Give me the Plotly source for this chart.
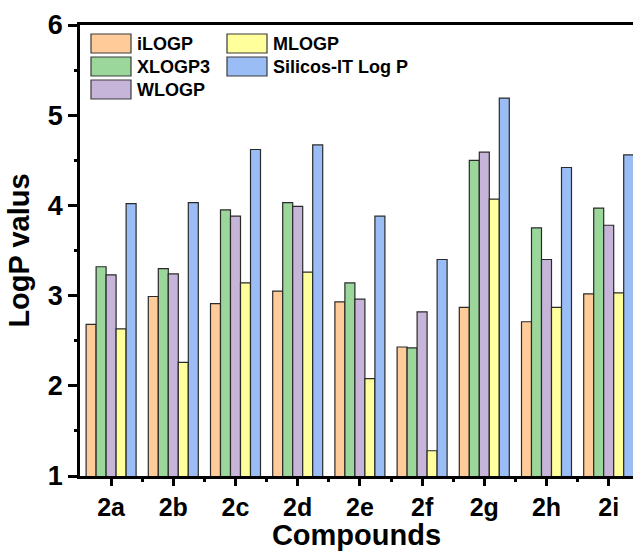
import plotly.graph_objects as go

compounds = ["2a", "2b", "2c", "2d", "2e", "2f", "2g", "2h", "2i"]
series_names = ["iLOGP", "XLOGP3", "WLOGP", "MLOGP", "Silicos-IT Log P"]

ilogp   = [2.68, 2.99, 2.91, 3.05, 2.93, 2.43, 2.87, 2.71, 3.02]
xlogp3  = [3.32, 3.30, 3.95, 4.03, 3.14, 2.42, 4.50, 3.75, 3.97]
wlogp   = [3.23, 3.24, 3.88, 3.99, 2.96, 2.82, 4.59, 3.40, 3.78]
mlogp   = [2.63, 2.26, 3.14, 3.26, 2.08, 1.28, 4.07, 2.87, 3.03]
silicos = [4.02, 4.03, 4.62, 4.67, 3.88, 3.40, 5.19, 4.42, 4.56]

y_ticks = [1, 2, 3, 4, 5, 6]

series_values = [ilogp, xlogp3, wlogp, mlogp, silicos]
colors = ["#FFCC99", "#9BD69B", "#C6B4D9", "#FFFF9C", "#9BBDF6"]

W, H = 633, 551
ML, MR, MT, MB = 80, 0, 25, 75
PW, PH = W - ML - MR, H - MT - MB

FONT = "Liberation Sans, Arial, sans-serif"

x_idx = list(range(len(compounds)))

fig = go.Figure()
for name, vals, col in zip(series_names, series_values, colors):
    fig.add_trace(go.Bar(
        x=x_idx, y=vals, name=name,
        marker=dict(color=col, line=dict(color="#2a2a2a", width=1.2)),
        showlegend=False,
    ))

# custom legend (two columns, large swatches)
def px_x(p):
    return (p - ML) / PW

def px_y(p):
    return (H - MB - p) / PH

legend_pos = [(0, 0), (0, 1), (0, 2), (1, 0), (1, 1)]  # (col, row) per series
col_x = [91, 227]
row_y = [34, 57, 80]
sw_w, sw_h = 40, 19
shapes = []
annotations = []
for (c, r), name, col in zip(legend_pos, series_names, colors):
    x0 = col_x[c]
    y0 = row_y[r]
    shapes.append(dict(type="rect", xref="paper", yref="paper",
                       x0=px_x(x0), x1=px_x(x0 + sw_w),
                       y0=px_y(y0 + sw_h), y1=px_y(y0),
                       fillcolor=col, line=dict(color="#3a3a3a", width=1.2)))
    annotations.append(dict(xref="paper", yref="paper",
                            x=px_x(x0 + sw_w + 4), y=px_y(y0 + sw_h / 2),
                            xanchor="left", yanchor="middle", showarrow=False,
                            text=name,
                            font=dict(family=FONT, size=18, color="black", weight="bold")))

fig.update_layout(
    width=W, height=H,
    margin=dict(l=ML, r=MR, t=MT, b=MB, pad=0, autoexpand=False),
    paper_bgcolor="white", plot_bgcolor="white",
    barmode="group", bargap=0.196, bargroupgap=0,
    shapes=shapes, annotations=annotations,
    font=dict(family=FONT, color="black"),
)

fig.update_xaxes(
    automargin=False,
    range=[-0.5, -0.5 + PW / 62.2],
    tickmode="array", tickvals=x_idx, ticktext=compounds,
    tickfont=dict(family=FONT, size=25, color="black", weight="bold"),
    ticks="outside", ticklen=7, tickwidth=2.5, tickcolor="black",
    minor=dict(tickmode="array", tickvals=[i + 0.5 for i in x_idx],
               ticks="outside", ticklen=3, tickwidth=2.5, tickcolor="black"),
    showline=True, linecolor="black", linewidth=2.5, mirror=True,
    showgrid=False, zeroline=False,
    title=dict(text="Compounds", standoff=0,
               font=dict(family=FONT, size=29, color="black", weight="bold")),
)

fig.update_yaxes(
    automargin=False,
    range=[1, 6],
    tickmode="array", tickvals=y_ticks, ticktext=[str(v) for v in y_ticks],
    tickfont=dict(family=FONT, size=27, color="black", weight="bold"),
    ticks="outside", ticklen=9, tickwidth=2.5, tickcolor="black",
    minor=dict(dtick=0.5, tick0=0.5, ticks="outside", ticklen=3, tickwidth=2.5, tickcolor="black"),
    showline=True, linecolor="black", linewidth=2.5, mirror=False,
    showgrid=False, zeroline=False,
    title=dict(text="LogP valus", standoff=10,
               font=dict(family=FONT, size=29, color="black", weight="bold")),
)

fig.write_html(
    "out.html",
    config={"displayModeBar": False},
    post_script="document.body.style.margin='0';document.body.style.padding='0';",
)
